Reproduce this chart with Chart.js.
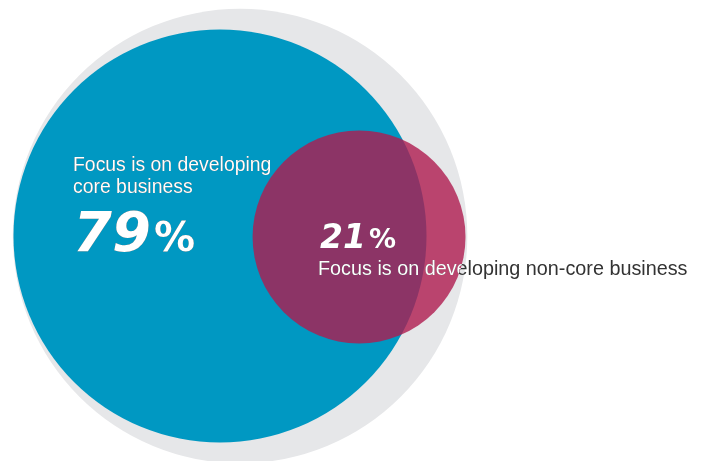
<!DOCTYPE html>
<html lang="en">
  <head>
    <meta charset="UTF-8" />
    <title>Focus of development</title>
    <style>
      body { margin: 0; background: #fff; }
      .wrap { width: 704px; height: 461px; position: relative; }
    </style>
  </head>
  <body>
    <div class="wrap">
      <canvas id="venn"></canvas>
    </div>
    <script src="https://cdn.jsdelivr.net/npm/chart.js@4/dist/chart.umd.min.js"></script>
    <script>
      // data
      var labels = ['Focus is on developing\ncore business', 'Focus is on developing non-core business'];
      var shares = [79, 21];

      // where each circle sits, in scale units (0-100 both ways)
      var spotX = [31.25, 51.0];
      var spotY = [48.8, 48.6];

      var blue = '#0098c2';
      var pink = 'rgba(175, 28, 79, 0.8)';
      var grey = '#e6e7e9';

      // circle area follows the share
      function radiusOf(chart, share) {
        return Math.sqrt(share / 100) * chart.height * 0.504;
      }

      var textPlugin = {
        id: 'vennText',
        afterDatasetsDraw: function (chart) {
          var ctx = chart.ctx;
          var a = chart.getDatasetMeta(1).data[0];
          var b = chart.getDatasetMeta(0).data[0];

          function drawAll(col) {
            ctx.fillStyle = col;
            ctx.textBaseline = 'alphabetic';
            ctx.textAlign = 'left';

            // big circle label
            var lines = labels[0].split('\n');
            var lx = a.x - 147;
            ctx.font = '19.4px "Liberation Sans", Arial, sans-serif';
            ctx.fillText(lines[0], lx, a.y - 65);
            ctx.fillText(lines[1], lx, a.y - 43);
            ctx.font = 'italic bold 56px "DejaVu Sans", sans-serif';
            var n = String(shares[0]);
            ctx.fillText(n, lx, a.y + 15);
            var w = ctx.measureText(n).width;
            ctx.font = 'bold 41px "DejaVu Sans", sans-serif';
            ctx.fillText('%', lx + w + 3, a.y + 15);

            // small circle label
            var sx = b.x - 41;
            ctx.font = 'italic bold 33px "DejaVu Sans", sans-serif';
            n = String(shares[1]);
            ctx.fillText(n, sx + 2, b.y + 11);
            w = ctx.measureText(n).width;
            ctx.font = 'bold 27px "DejaVu Sans", sans-serif';
            ctx.fillText('%', sx + w + 5, b.y + 11);
            ctx.font = '19.8px "Liberation Sans", Arial, sans-serif';
            ctx.fillText(labels[1], sx, b.y + 38);
          }

          ctx.save();
          drawAll('#333333');
          ctx.restore();

          // white where the text sits on a coloured circle
          ctx.save();
          ctx.beginPath();
          ctx.arc(a.x, a.y, a.options.radius, 0, Math.PI * 2);
          ctx.moveTo(b.x + b.options.radius, b.y);
          ctx.arc(b.x, b.y, b.options.radius, 0, Math.PI * 2);
          ctx.clip();
          drawAll('#ffffff');
          ctx.restore();
        }
      };

      new Chart(document.getElementById('venn'), {
        type: 'bubble',
        data: {
          datasets: [
            {
              label: labels[1],
              data: [{ x: spotX[1], y: spotY[1] }],
              backgroundColor: pink,
              borderWidth: 0,
              order: 0,
              clip: false,
              radius: function (c) { return radiusOf(c.chart, shares[1]); }
            },
            {
              label: labels[0],
              data: [{ x: spotX[0], y: spotY[0] }],
              backgroundColor: blue,
              borderWidth: 0,
              order: 1,
              clip: false,
              radius: function (c) { return radiusOf(c.chart, shares[0]); }
            },
            {
              label: 'shadow',
              data: [{ x: 34.1, y: 48.8 }],
              backgroundColor: grey,
              borderWidth: 0,
              order: 2,
              clip: false,
              radius: function (c) { return c.chart.height * 0.493; }
            }
          ]
        },
        options: {
          responsive: true,
          maintainAspectRatio: false,
          animation: false,
          events: [],
          layout: { padding: 0, autoPadding: false },
          plugins: {
            legend: { display: false },
            tooltip: { enabled: false }
          },
          scales: {
            x: { min: 0, max: 100, display: false },
            y: { min: 0, max: 100, display: false }
          }
        },
        plugins: [textPlugin]
      });
    </script>
  </body>
</html>
